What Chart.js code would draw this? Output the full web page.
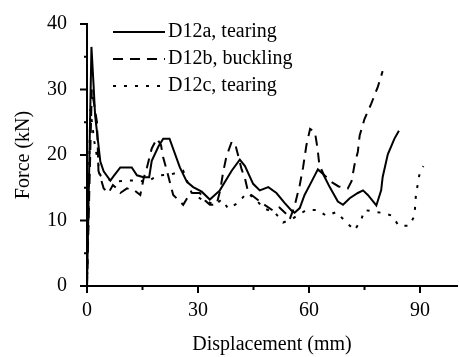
<!DOCTYPE html>
<html>
<head>
<meta charset="utf-8">
<script src="https://cdn.jsdelivr.net/npm/chart.js@4.4.1/dist/chart.umd.min.js"></script>
<style>
  body { margin: 0; background: #fff; }
</style>
</head>
<body>
<canvas id="forceChart" width="459" height="357"></canvas>
<script>
// Displacement (mm) / force (kN)
var seriesNames = ['D12a, tearing', 'D12b, buckling', 'D12c, tearing'];

var d12aX = [0, 1.2, 1.8, 2.2, 3.6, 4.5, 6.3, 7.5, 9, 12.1, 13.5, 15.3, 16.8, 17.5, 19.3, 20.6, 22.3, 25.1, 27, 28.7, 31, 33.2, 35.9, 39.1, 41.3, 42.7, 44.9, 46.7, 49, 51.2, 53.4, 55.3, 56.1, 57.5, 58.8, 60.2, 62.4, 63.8, 65.6, 67.8, 69.2, 71, 73.2, 74.6, 75.9, 78.2, 79.5, 79.9, 81.3, 83.1, 84.3];
var d12aY = [0, 36.5, 30.4, 26, 19, 17.5, 16.1, 17, 18.1, 18.1, 16.9, 16.6, 16.6, 19.1, 21.3, 22.5, 22.5, 18.1, 15.9, 15.1, 14.4, 13.2, 14.6, 17.6, 19.3, 18.3, 15.6, 14.6, 15.1, 14.2, 12.7, 11.5, 11.2, 11.9, 13.9, 15.4, 17.8, 17.1, 15.1, 12.9, 12.4, 13.4, 14.2, 14.6, 13.9, 12.3, 14.6, 16.6, 20.1, 22.5, 23.7];

var d12bX = [0, 1.3, 2.7, 3.1, 4.5, 5.8, 7, 8.1, 9, 10.8, 12.8, 14.4, 15.3, 16.2, 17.5, 18.9, 20, 20.6, 21.6, 23.3, 26, 27.4, 28.5, 30.5, 32, 33.2, 35, 36, 36.8, 37.7, 39.1, 40, 41.8, 42.7, 43.6, 44.9, 47.2, 50.3, 52, 53.9, 54.8, 56.1, 57.5, 58.4, 59.3, 60.3, 61.6, 62.3, 62.8, 64, 66, 68, 70.5, 71.5, 72.3, 73.2, 73.7, 75, 76.8, 78.6, 79.9];
var d12bY = [0, 30, 25, 17.6, 14.9, 14.2, 15.4, 14.9, 14.2, 14.9, 14.6, 13.9, 16.4, 18.1, 21, 22.5, 21.5, 19.6, 17.6, 13.9, 12.4, 13.7, 14.2, 14.2, 13, 12.4, 12.4, 14.6, 17.4, 19.8, 22, 21.8, 17.8, 16.4, 14.2, 13.7, 12.7, 11.5, 12, 11, 10.2, 12.2, 15.4, 18.1, 21.5, 24, 23.5, 21, 18.5, 17, 15.9, 15.2, 14.9, 16, 18.5, 20.5, 23, 25.5, 27.8, 30.4, 32.8];

var d12cX = [0, 0.9, 2, 3.6, 7.2, 10.8, 13.5, 16.2, 19.3, 22.5, 26, 28.3, 31, 34.6, 36.4, 38.2, 40.9, 43.1, 45.4, 47.6, 50.8, 53, 55.3, 59.3, 62.4, 64.7, 67.4, 69.6, 72.3, 74.1, 75, 80.4, 82.6, 84.2, 87.1, 88.5, 88.9, 89.8, 90.9];
var d12cY = [0, 27, 22, 16.9, 15.9, 16.1, 16.1, 15.9, 16.9, 17, 17.6, 14.2, 13.2, 12.4, 13.2, 11.8, 12.7, 14.2, 13.4, 11.9, 11.2, 9.7, 10.2, 11.6, 11.6, 10.7, 11.3, 10, 8.5, 10.1, 11.6, 11.1, 10.7, 9.2, 9.2, 10.7, 13.9, 16.9, 18.3];

var xTicks = [0, 30, 60, 90];
var yTicks = [0, 10, 20, 30, 40];

var serif = '"Liberation Serif", "Times New Roman", serif';

function toPoints(xs, ys) {
  return xs.map(function (x, i) { return { x: x, y: ys[i] }; });
}

function makeSet(label, xs, ys, dash) {
  return {
    label: label,
    data: toPoints(xs, ys),
    showLine: true,
    borderColor: '#000',
    borderWidth: 2,
    borderDash: dash,
    pointRadius: 0,
    tension: 0,
    fill: false
  };
}

// outward ticks: long at labelled values, short halfway between
var tickMarks = {
  id: 'tickMarks',
  afterDraw: function (chart) {
    var ctx = chart.ctx;
    var xs = chart.scales.x, ys = chart.scales.y;
    var area = chart.chartArea;
    ctx.save();
    ctx.strokeStyle = '#000';
    ctx.lineWidth = 2;
    ctx.beginPath();
    for (var i = 0; i < xTicks.length; i++) {
      var px = xs.getPixelForValue(xTicks[i]);
      ctx.moveTo(px, area.bottom); ctx.lineTo(px, area.bottom + 7);
      var mx = xs.getPixelForValue(xTicks[i] + 15);
      if (xTicks[i] + 15 < xs.max) { ctx.moveTo(mx, area.bottom); ctx.lineTo(mx, area.bottom + 4); }
    }
    for (var j = 0; j < yTicks.length; j++) {
      var py = ys.getPixelForValue(yTicks[j]);
      ctx.moveTo(area.left, py); ctx.lineTo(area.left - 7, py);
      if (yTicks[j] + 5 < ys.max) {
        var my = ys.getPixelForValue(yTicks[j] + 5);
        ctx.moveTo(area.left, my); ctx.lineTo(area.left - 3, my);
      }
    }
    ctx.stroke();
    ctx.restore();
  }
};

// legend drawn inside the plot, top left
var innerLegend = {
  id: 'innerLegend',
  afterDraw: function (chart) {
    var ctx = chart.ctx;
    var area = chart.chartArea;
    ctx.save();
    ctx.font = '20px ' + serif;
    ctx.fillStyle = '#000';
    ctx.textBaseline = 'middle';
    chart.data.datasets.forEach(function (ds, i) {
      var y = area.top + 8 + i * 27;
      ctx.strokeStyle = '#000';
      ctx.lineWidth = 2;
      ctx.setLineDash(ds.borderDash || []);
      ctx.beginPath();
      ctx.moveTo(area.left + 26, y);
      ctx.lineTo(area.left + 78, y);
      ctx.stroke();
      ctx.setLineDash([]);
      ctx.fillText(ds.label, area.left + 81, y);
    });
    ctx.restore();
  }
};

var ctx = document.getElementById('forceChart').getContext('2d');

var forceChart = new Chart(ctx, {
  type: 'scatter',
  data: {
    datasets: [
      makeSet(seriesNames[0], d12aX, d12aY, []),
      makeSet(seriesNames[1], d12bX, d12bY, [10, 7]),
      makeSet(seriesNames[2], d12cX, d12cY, [3, 8])
    ]
  },
  options: {
    responsive: false,
    animation: false,
    layout: { padding: { left: 12, top: 15, right: 2, bottom: 0 } },
    plugins: {
      legend: { display: false },
      tooltip: { enabled: false }
    },
    scales: {
      x: {
        type: 'linear',
        min: 0,
        max: 100,
        afterFit: function (scale) { scale.height = 71; },
        grid: { display: false },
        border: { display: true, color: '#000', width: 2 },
        ticks: {
          stepSize: 30,
          includeBounds: false,
          padding: 5,
          color: '#000',
          font: { family: serif, size: 20 },
          maxRotation: 0
        },
        title: {
          display: true,
          text: 'Displacement (mm)',
          color: '#000',
          font: { family: serif, size: 20 },
          padding: { top: 0, bottom: 0 }
        }
      },
      y: {
        min: 0,
        max: 40,
        afterFit: function (scale) { scale.width = 75; },
        grid: { display: false },
        border: { display: true, color: '#000', width: 2 },
        ticks: {
          stepSize: 10,
          padding: 12,
          color: '#000',
          font: { family: serif, size: 20 }
        },
        title: {
          display: true,
          text: 'Force (kN)',
          color: '#000',
          font: { family: serif, size: 20 },
          padding: { top: 0, bottom: 0 }
        }
      }
    }
  },
  plugins: [tickMarks, innerLegend]
});
</script>
</body>
</html>
